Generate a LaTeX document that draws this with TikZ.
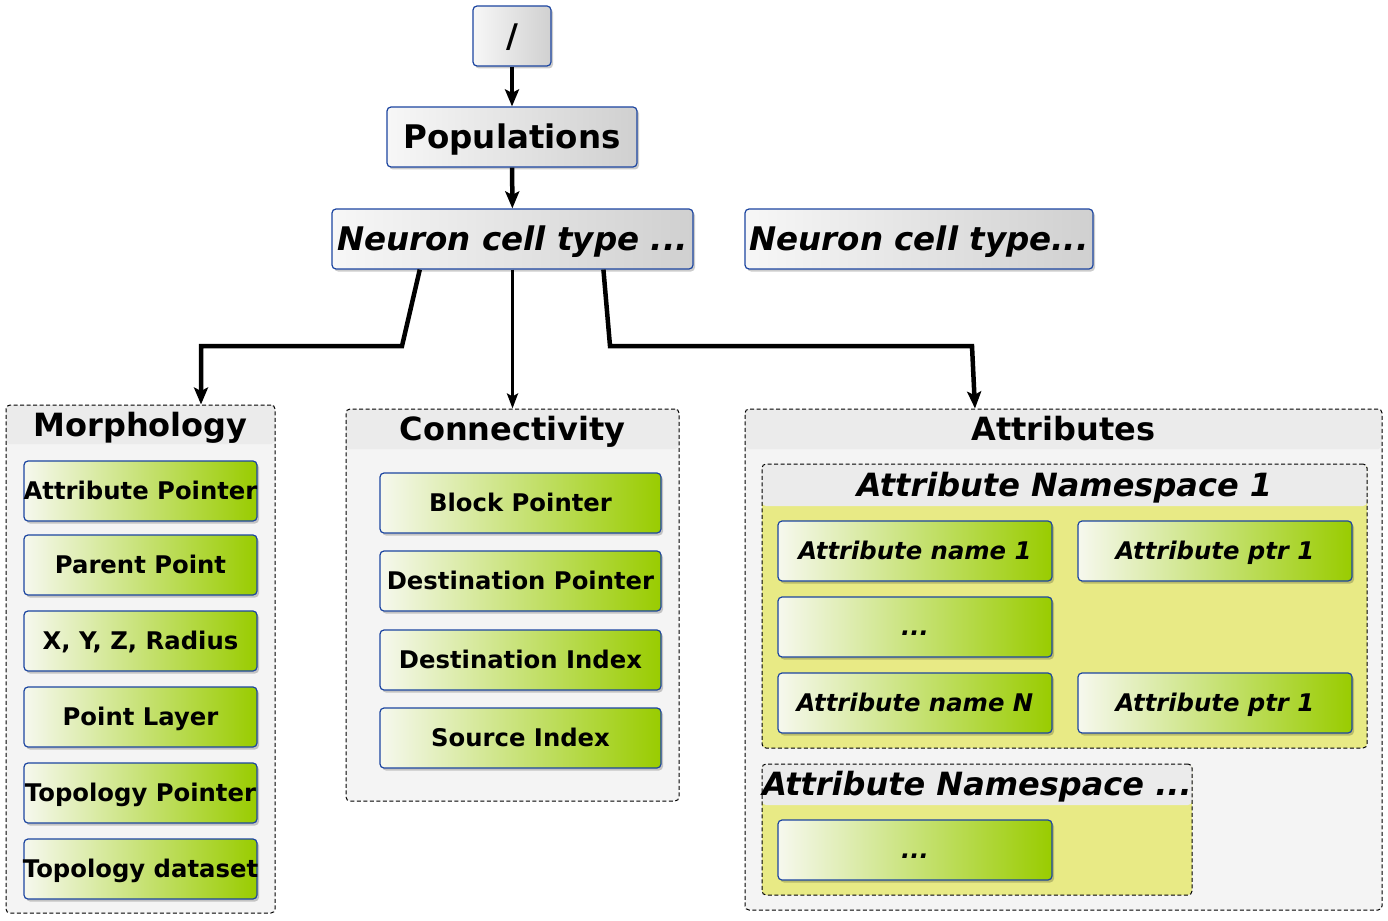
\documentclass[tikz,border=0pt]{standalone}
\usepackage{fontspec}
\setmainfont{DejaVu Sans}
\usetikzlibrary{arrows.meta,shadows,calc}
\definecolor{boxblue}{HTML}{1C45A0}
\definecolor{greyL}{HTML}{F7F7F7}
\definecolor{greyR}{HTML}{D0D0D0}
\definecolor{greenL}{HTML}{F6F8EE}
\definecolor{greenM}{HTML}{CBE386}
\definecolor{greenR}{HTML}{99CC00}
\definecolor{bodyfill}{HTML}{F4F4F4}
\definecolor{bandfill}{HTML}{EBEBEB}
\definecolor{nsfill}{HTML}{E8EA85}
\tikzset{
  shadowed/.style={drop shadow={shadow xshift=2pt, shadow yshift=-2.5pt, fill=black, opacity=0.2}},
  greybox/.style={draw=boxblue, line width=1.2pt, rounded corners=4pt, left color=greyL, right color=greyR,
    shadowed, inner sep=0pt, minimum height=60pt, text height=23.7pt, text depth=0pt,
    font=\fontsize{32.5}{38}\selectfont\bfseries},
  greenbox/.style={draw=boxblue, line width=1.2pt, rounded corners=4pt, left color=greenL, middle color=greenM,
    right color=greenR, shadowed, inner sep=0pt, minimum height=60pt, text height=17.7pt, text depth=0pt,
    font=\fontsize{24.3}{29}\selectfont\bfseries},
  container/.style 2 args={draw=black, dash pattern=on 4pt off 2.5pt, line width=1pt, rounded corners=4pt, fill=#1,
    inner sep=0pt,
    path picture={\fill[bandfill] (path picture bounding box.north west) rectangle
      ([yshift=-#2]path picture bounding box.north east);}},
  titletext/.style={inner sep=0pt, text height=23.3pt, text depth=0pt, font=\fontsize{32}{38}\selectfont\bfseries},
  thickarrow/.style={line width=4.5pt, line join=miter, -{Stealth[length=17pt, width=14pt, inset=3.5pt]}},
  thinarrow/.style={line width=3pt, -{Stealth[length=15pt, width=11pt, inset=3pt]}}
}
\begin{document}
\begin{tikzpicture}[x=1pt, y=-1pt]
\useasboundingbox (0,0) rectangle (1388,920);
\fill[white] (0,0) rectangle (1388,920);

% top chain
\node[greybox, minimum width=78pt] (root) at (512,36) {/};
\node[greybox, minimum width=250pt] (pop) at (512,137) {Populations};
\node[greybox, minimum width=361pt] (nct) at (512.5,239) {\itshape Neuron cell type ...};
\node[greybox, minimum width=348pt] (nct2) at (919,239) {\itshape Neuron cell type...};

% containers
\node[container={bodyfill}{39pt}, minimum width=269pt, minimum height=508pt] (morph) at (140.5,659) {};
\node[container={bodyfill}{40pt}, minimum width=333pt, minimum height=392pt] (conn) at (512.5,605) {};
\node[container={bodyfill}{40pt}, minimum width=637pt, minimum height=501pt] (attr) at (1063.5,659.5) {};
\node[container={nsfill}{42pt}, minimum width=605pt, minimum height=284pt] (ns1) at (1064.5,606) {};
\node[container={nsfill}{41pt}, minimum width=430pt, minimum height=131pt] (ns2) at (977,829.5) {};

% titles
\node[titletext] (morphT) at ([yshift=-20pt]morph.north) {Morphology};
\node[titletext] (connT) at ([yshift=-20pt]conn.north) {Connectivity};
\node[titletext] (attrT) at ([yshift=-20pt]attr.north) {Attributes};
\node[titletext] (ns1T) at ([yshift=-21pt]ns1.north) {\itshape Attribute Namespace 1};
\node[titletext] (ns2T) at ([yshift=-20.5pt]ns2.north) {\itshape Attribute Namespace ...};

% morphology entries
\node[greenbox, minimum width=233pt] (m1) at (140.5,491) {\makebox[0pt]{Attribute Pointer}};
\node[greenbox, minimum width=233pt] (m2) at (140.5,565) {Parent Point};
\node[greenbox, minimum width=233pt] (m3) at (140.5,641) {X, Y, Z, Radius};
\node[greenbox, minimum width=233pt] (m4) at (140.5,717) {Point Layer};
\node[greenbox, minimum width=233pt] (m5) at (140.5,793) {\makebox[0pt]{Topology Pointer}};
\node[greenbox, minimum width=233pt] (m6) at (140.5,869) {\makebox[0pt]{Topology dataset}};

% connectivity entries
\node[greenbox, minimum width=281pt] (c1) at (520.5,503) {Block Pointer};
\node[greenbox, minimum width=281pt] (c2) at (520.5,581) {Destination Pointer};
\node[greenbox, minimum width=281pt] (c3) at (520.5,660) {Destination Index};
\node[greenbox, minimum width=281pt] (c4) at (520.5,738) {Source Index};

% attribute entries
\node[greenbox, minimum width=274pt] (a1) at (915,551) {\itshape Attribute name 1};
\node[greenbox, minimum width=274pt] (a2) at (1215,551) {\itshape Attribute ptr 1};
\node[greenbox, minimum width=274pt] (a3) at (915,627) {\itshape ...};
\node[greenbox, minimum width=274pt] (a4) at (915,703) {\itshape Attribute name N};
\node[greenbox, minimum width=274pt] (a5) at (1215,703) {\itshape Attribute ptr 1};
\node[greenbox, minimum width=274pt] (a6) at (915,850) {\itshape ...};

% connectors
\draw[thickarrow] (root) -- (pop);
\draw[thickarrow] (pop) -- (nct);

\coordinate (lb1) at (402,346);
\coordinate (lb2) at (201,346);
\coordinate (rb1) at (610,346);
\coordinate (rb2) at (972,346);
\coordinate (rb3) at (975,346);

\draw[thickarrow] ($(nct.south west)!0.244!(nct.south east)$) -- (lb1) -- (lb2) -- (lb2 |- morph.north);
\draw[thinarrow] (nct.south) -- (conn.north);
\draw[thickarrow] ($(nct.south west)!0.751!(nct.south east)$) -- (rb1) -- (rb2) -- (rb3 |- attr.north);
\end{tikzpicture}
\end{document}
